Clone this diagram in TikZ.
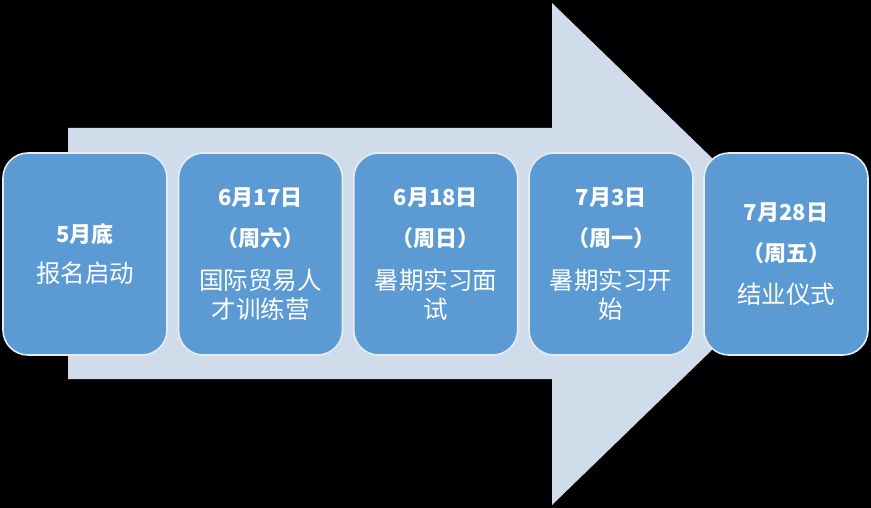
\documentclass[tikz,border=0pt]{standalone}
\usepackage{fontspec}
\setmainfont{Noto Sans CJK SC}
\usepackage{tikz}
\usetikzlibrary{shapes,arrows}
\definecolor{arrowblue}{HTML}{D0DCEA}
\definecolor{boxblue}{HTML}{5B9AD3}
\definecolor{boxline}{HTML}{E4ECF5}
\tikzset{
  stage/.style={draw=boxline, line width=1.6pt, fill=boxblue, rounded corners=25pt,
    minimum width=164pt, minimum height=202pt, text=white, align=center,
    font=\fontsize{24.5}{29}\selectfont, inner sep=0pt},
}
\newcommand{\dday}[1]{{\bfseries\fontsize{22}{29}\selectfont #1}}

\begin{document}
\begin{tikzpicture}[x=1pt,y=-1pt]
\fill [black] (0,0) rectangle (871,508);
\useasboundingbox (0,0) rectangle (871,508);
% big arrow behind the stages
\fill [arrowblue] (68,128) -- (552,128) -- (552,3) -- (811,254) -- (552,505) -- (552,379) -- (68,379) -- cycle;
\node[stage] (s1) at (85,254) {\dday{5月底}\\[11pt]报名启动};
\node[stage] (s2) at (260.5,254) {\dday{6月17日}\\[12pt]\dday{（周六）}\\[14pt]国际贸易人\\才训练营};
\node[stage] (s3) at (435.75,254) {\dday{6月18日}\\[12pt]\dday{（周日）}\\[14pt]暑期实习面\\试};
\node[stage] (s4) at (611,254) {\dday{7月3日}\\[12pt]\dday{（周一）}\\[14pt]暑期实习开\\始};
\node[stage] (s5) at (786,254) {\dday{7月28日}\\[12pt]\dday{（周五）}\\[13pt]结业仪式};
\end{tikzpicture}
\end{document}
